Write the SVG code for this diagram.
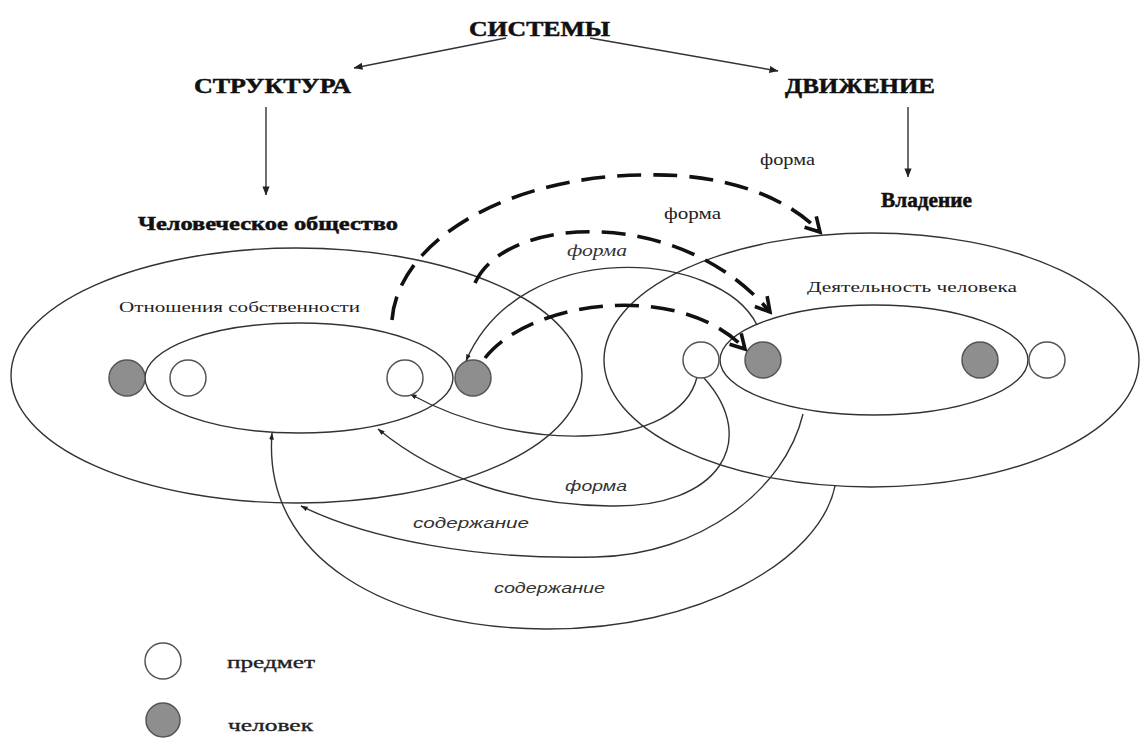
<svg xmlns="http://www.w3.org/2000/svg" width="1140" height="738" viewBox="0 0 1140 738">
<style>
.bg{fill:#ffffff}
.ell{fill:none;stroke:#333;stroke-width:1.4}
.thing{fill:#ffffff;stroke:#555;stroke-width:1.5}
.man{fill:#8e8e8e;stroke:#555;stroke-width:1.5}
.ln{fill:none;stroke:#333;stroke-width:1.4}
.dash{fill:none;stroke:#111;stroke-width:3.6;stroke-dasharray:24 12}
.h{font-family:"Liberation Serif","Times New Roman",serif;font-weight:bold;fill:#111;stroke:#111;stroke-width:0.5}
.t{font-family:"Liberation Serif","Times New Roman",serif;fill:#222}
.lg{font-family:"Liberation Serif","Times New Roman",serif;fill:#222;stroke:#222;stroke-width:0.35}
.ti{font-family:"Liberation Serif","Times New Roman",serif;font-style:italic;fill:#333}
.si{font-family:"Liberation Sans",Arial,sans-serif;font-style:italic;fill:#333}
</style>
<defs>
<marker id="tri" viewBox="0 0 10 10" refX="9.5" refY="5" markerWidth="9" markerHeight="9" markerUnits="userSpaceOnUse" orient="auto"><path d="M0,1 L10,5 L0,9 z" fill="#222"/></marker>
<marker id="tri-s" viewBox="0 0 10 10" refX="9.5" refY="5" markerWidth="7" markerHeight="7" markerUnits="userSpaceOnUse" orient="auto"><path d="M0,1.5 L10,5 L0,8.5 z" fill="#222"/></marker>
<marker id="chev" viewBox="0 0 20 20" refX="17" refY="10" markerWidth="20" markerHeight="20" markerUnits="userSpaceOnUse" orient="auto"><path d="M3,2 L17,10 L3,18" fill="none" stroke="#111" stroke-width="3.6"/></marker>
</defs>
<rect class="bg" x="0" y="0" width="1140" height="738"/>

<g id="sistemy"><text class="h" x="469" y="36" font-size="20" textLength="141" lengthAdjust="spacingAndGlyphs">СИСТЕМЫ</text></g>
<g id="struktura"><text class="h" x="194" y="93" font-size="22" textLength="157" lengthAdjust="spacingAndGlyphs">СТРУКТУРА</text></g>
<g id="dvizhenie"><text class="h" x="785" y="93" font-size="22" textLength="150" lengthAdjust="spacingAndGlyphs">ДВИЖЕНИЕ</text></g>

<g id="obshchestvo">
<ellipse class="ell" cx="296.5" cy="375.5" rx="285.5" ry="127.5"/>
<text class="h" x="138" y="230" font-size="19" textLength="260" lengthAdjust="spacingAndGlyphs">Человеческое общество</text>
</g>
<g id="otnosheniya">
<ellipse class="ell" cx="299" cy="378" rx="154" ry="55"/>
<text class="t" x="119" y="312" font-size="15" textLength="241" lengthAdjust="spacingAndGlyphs">Отношения собственности</text>
</g>
<g id="vladenie">
<ellipse class="ell" cx="871.5" cy="360" rx="267.5" ry="127"/>
<text class="h" x="881" y="207" font-size="20" textLength="91" lengthAdjust="spacingAndGlyphs">Владение</text>
</g>
<g id="deyatelnost">
<ellipse class="ell" cx="874" cy="360" rx="154" ry="55"/>
<text class="t" x="807" y="292" font-size="15" textLength="210" lengthAdjust="spacingAndGlyphs">Деятельность человека</text>
</g>

<g id="connectors">
<line class="ln" x1="506" y1="38" x2="354" y2="68" marker-end="url(#tri)"/>
<line class="ln" x1="590" y1="38" x2="778" y2="71" marker-end="url(#tri)"/>
<line class="ln" x1="266" y1="107" x2="266" y2="195" marker-end="url(#tri)"/>
<line class="ln" x1="908" y1="107" x2="908" y2="177" marker-end="url(#tri)"/>
<path class="dash" d="M392,320 C398,240 510,175 647,175 C730,173 790,200 820,232" marker-end="url(#chev)"/>
<path class="dash" d="M475,283 C505,215 680,205 770,312" marker-end="url(#chev)"/>
<path class="dash" d="M485,358 C530,300 680,280 745,349" marker-end="url(#chev)"/>
<path class="ln" d="M757,325 C720,250 520,235 466,361" marker-end="url(#tri-s)"/>
<path class="ln" d="M697,377 C680,450 520,455 410,394" marker-end="url(#tri-s)"/>
<path class="ln" d="M704,378 C760,440 720,508 610,506 C520,505 440,480 378,429" marker-end="url(#tri-s)"/>
<path class="ln" d="M803,414 C785,490 700,555 596,557 C480,560 370,540 301,506" marker-end="url(#tri-s)"/>
<path class="ln" d="M835,486 C820,560 700,630 545,629 C390,628 262,560 272,433" marker-end="url(#tri-s)"/>
<text class="t" x="760" y="165" font-size="16" textLength="55" lengthAdjust="spacingAndGlyphs">форма</text>
<text class="t" x="664" y="219" font-size="16" textLength="57" lengthAdjust="spacingAndGlyphs">форма</text>
<text class="ti" x="567" y="256" font-size="16" textLength="60" lengthAdjust="spacingAndGlyphs">форма</text>
<text class="si" x="565" y="491" font-size="15" textLength="62" lengthAdjust="spacingAndGlyphs">форма</text>
<text class="si" x="413" y="528" font-size="15" textLength="116" lengthAdjust="spacingAndGlyphs">содержание</text>
<text class="si" x="494" y="593" font-size="15" textLength="111" lengthAdjust="spacingAndGlyphs">содержание</text>
</g>

<g id="c1"><circle class="man" cx="127" cy="378" r="18"/></g>
<g id="c2"><circle class="thing" cx="188" cy="378" r="18"/></g>
<g id="c3"><circle class="thing" cx="405" cy="378" r="18"/></g>
<g id="c4"><circle class="man" cx="473" cy="378" r="18"/></g>
<g id="c5"><circle class="thing" cx="701" cy="360" r="18"/></g>
<g id="c6"><circle class="man" cx="763" cy="360" r="18"/></g>
<g id="c7"><circle class="man" cx="980" cy="360" r="18"/></g>
<g id="c8"><circle class="thing" cx="1047" cy="360" r="18"/></g>

<g id="legend-predmet">
<circle class="thing" cx="163" cy="661" r="18"/>
<text class="lg" x="227" y="668" font-size="17" textLength="88" lengthAdjust="spacingAndGlyphs">предмет</text>
</g>
<g id="legend-chelovek">
<circle class="man" cx="163" cy="720" r="17"/>
<text class="lg" x="228" y="731" font-size="17" textLength="85" lengthAdjust="spacingAndGlyphs">человек</text>
</g>
</svg>
